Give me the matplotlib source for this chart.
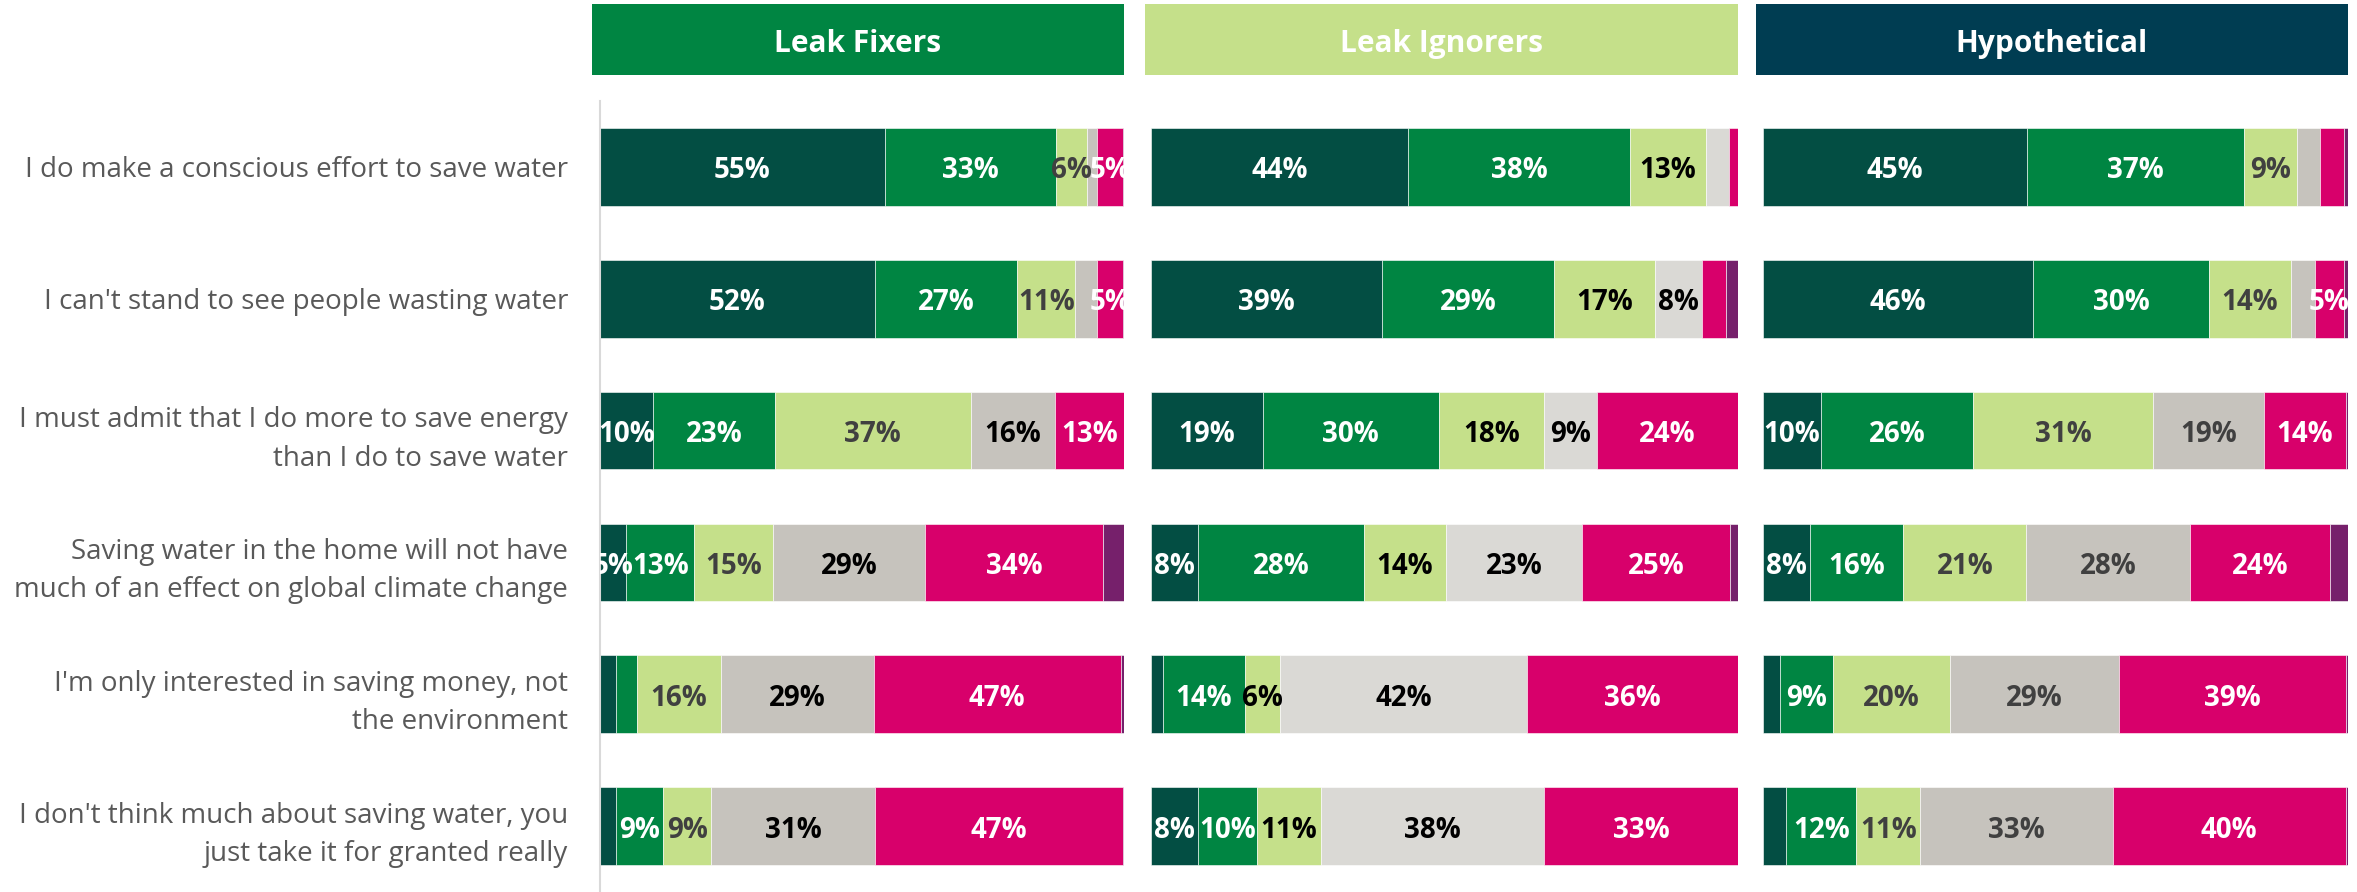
import matplotlib
matplotlib.use("Agg")
import matplotlib.pyplot as plt
import numpy as np

plt.rcParams["font.family"] = ["Open Sans", "DejaVu Sans"]

statements = [
    "I do make a conscious effort to save water",
    "I can't stand to see people wasting water",
    "I must admit that I do more to save energy\nthan I do to save water",
    "Saving water in the home will not have\nmuch of an effect on global climate change",
    "I'm only interested in saving money, not\nthe environment",
    "I don't think much about saving water, you\njust take it for granted really",
]

groups = ["Leak Fixers", "Leak Ignorers", "Hypothetical"]

# shares per statement, columns: agree strongly -> agree -> slightly -> neutral -> disagree -> don't know
leak_fixers = [
    [55, 33, 6, 2, 5, 0.2],
    [52, 27, 11, 4, 5, 0.2],
    [10, 23, 37, 16, 13, 0],
    [5, 13, 15, 29, 34, 4],
    [3, 4, 16, 29, 47, 0.6],
    [3, 9, 9, 31, 47, 0.1],
]
leak_ignorers = [
    [44, 38, 13, 4, 1.5, 0],
    [39, 29, 17, 8, 4, 2],
    [19, 30, 18, 9, 24, 0],
    [8, 28, 14, 23, 25, 1.4],
    [2, 14, 6, 42, 36, 0],
    [8, 10, 11, 38, 33, 0],
]
hypothetical = [
    [45, 37, 9, 4, 4, 0.7],
    [46, 30, 14, 4, 5, 0.7],
    [10, 26, 31, 19, 14, 0.4],
    [8, 16, 21, 28, 24, 3],
    [3, 9, 20, 29, 39, 0.3],
    [4, 12, 11, 33, 40, 0.4],
]

header_colors = ["#008542", "#C5E08A", "#003D52"]
seg_colors = [
    ["#034E43", "#008542", "#C5E08A", "#C6C3BD", "#D8006B", "#76206B"],
    ["#034E43", "#008542", "#C5E08A", "#DAD9D5", "#D8006B", "#76206B"],
    ["#034E43", "#008542", "#C5E08A", "#C6C3BD", "#D8006B", "#76206B"],
]
label_colors = [
    ["white", "white", "#404040", "black", "white", "white"],
    ["white", "white", "black", "black", "white", "white"],
    ["white", "white", "#404040", "#404040", "white", "white"],
]

W, H = 2357, 892
fig = plt.figure(figsize=(W / 100, H / 100), dpi=100)

panel_x = [(600, 1124), (1151, 1738), (1763, 2348)]
header_x = [(592, 1124), (1145, 1738), (1756, 2348)]
top_px = 101

datasets = [leak_fixers, leak_ignorers, hypothetical]
y = np.arange(len(statements))

for i, (data, (x0, x1), (hx0, hx1)) in enumerate(zip(datasets, panel_x, header_x)):
    ax = fig.add_axes([x0 / W, 0, (x1 - x0) / W, (H - top_px) / H])
    vals = np.array(data, dtype=float)
    shares = vals / vals.sum(axis=1, keepdims=True) * 100
    left = np.zeros(len(statements))
    for j in range(vals.shape[1]):
        ax.barh(y, shares[:, j], left=left, height=0.59,
                color=seg_colors[i][j], edgecolor="white", linewidth=0.4)
        for k in range(len(statements)):
            if vals[k, j] >= 5:
                ax.text(left[k] + shares[k, j] / 2, y[k] + 0.03, f"{vals[k, j]:.0f}%",
                        ha="center", va="center", fontsize=20, fontweight="bold",
                        color=label_colors[i][j], clip_on=True)
        left += shares[:, j]
    ax.set_xlim(0, 100)
    ax.set_ylim(len(statements) - 0.5, -0.5)
    ax.set_xticks([])
    for s in ["top", "right", "bottom"]:
        ax.spines[s].set_visible(False)
    if i == 0:
        ax.spines["left"].set_color("#D9D9D9")
        ax.spines["left"].set_linewidth(1.5)
        ax.set_yticks(y)
        ax.set_yticklabels(statements, fontsize=20, color="#595959")
        ax.tick_params(axis="y", length=0, pad=23)
        for lbl in ax.get_yticklabels():
            lbl.set_linespacing(1.5)
            lbl.set_multialignment("right")
    else:
        ax.spines["left"].set_visible(False)
        ax.set_yticks([])

    hax = fig.add_axes([hx0 / W, (H - 75) / H, (hx1 - hx0) / W, 70.5 / H])
    hax.set_facecolor(header_colors[i])
    hax.set_xticks([])
    hax.set_yticks([])
    for s in hax.spines.values():
        s.set_visible(False)
    hax.text(0.5, 0.44, groups[i], ha="center", va="center", fontsize=21.5,
             fontweight="bold", color="white", transform=hax.transAxes)

fig.savefig("out.png", dpi=100)
